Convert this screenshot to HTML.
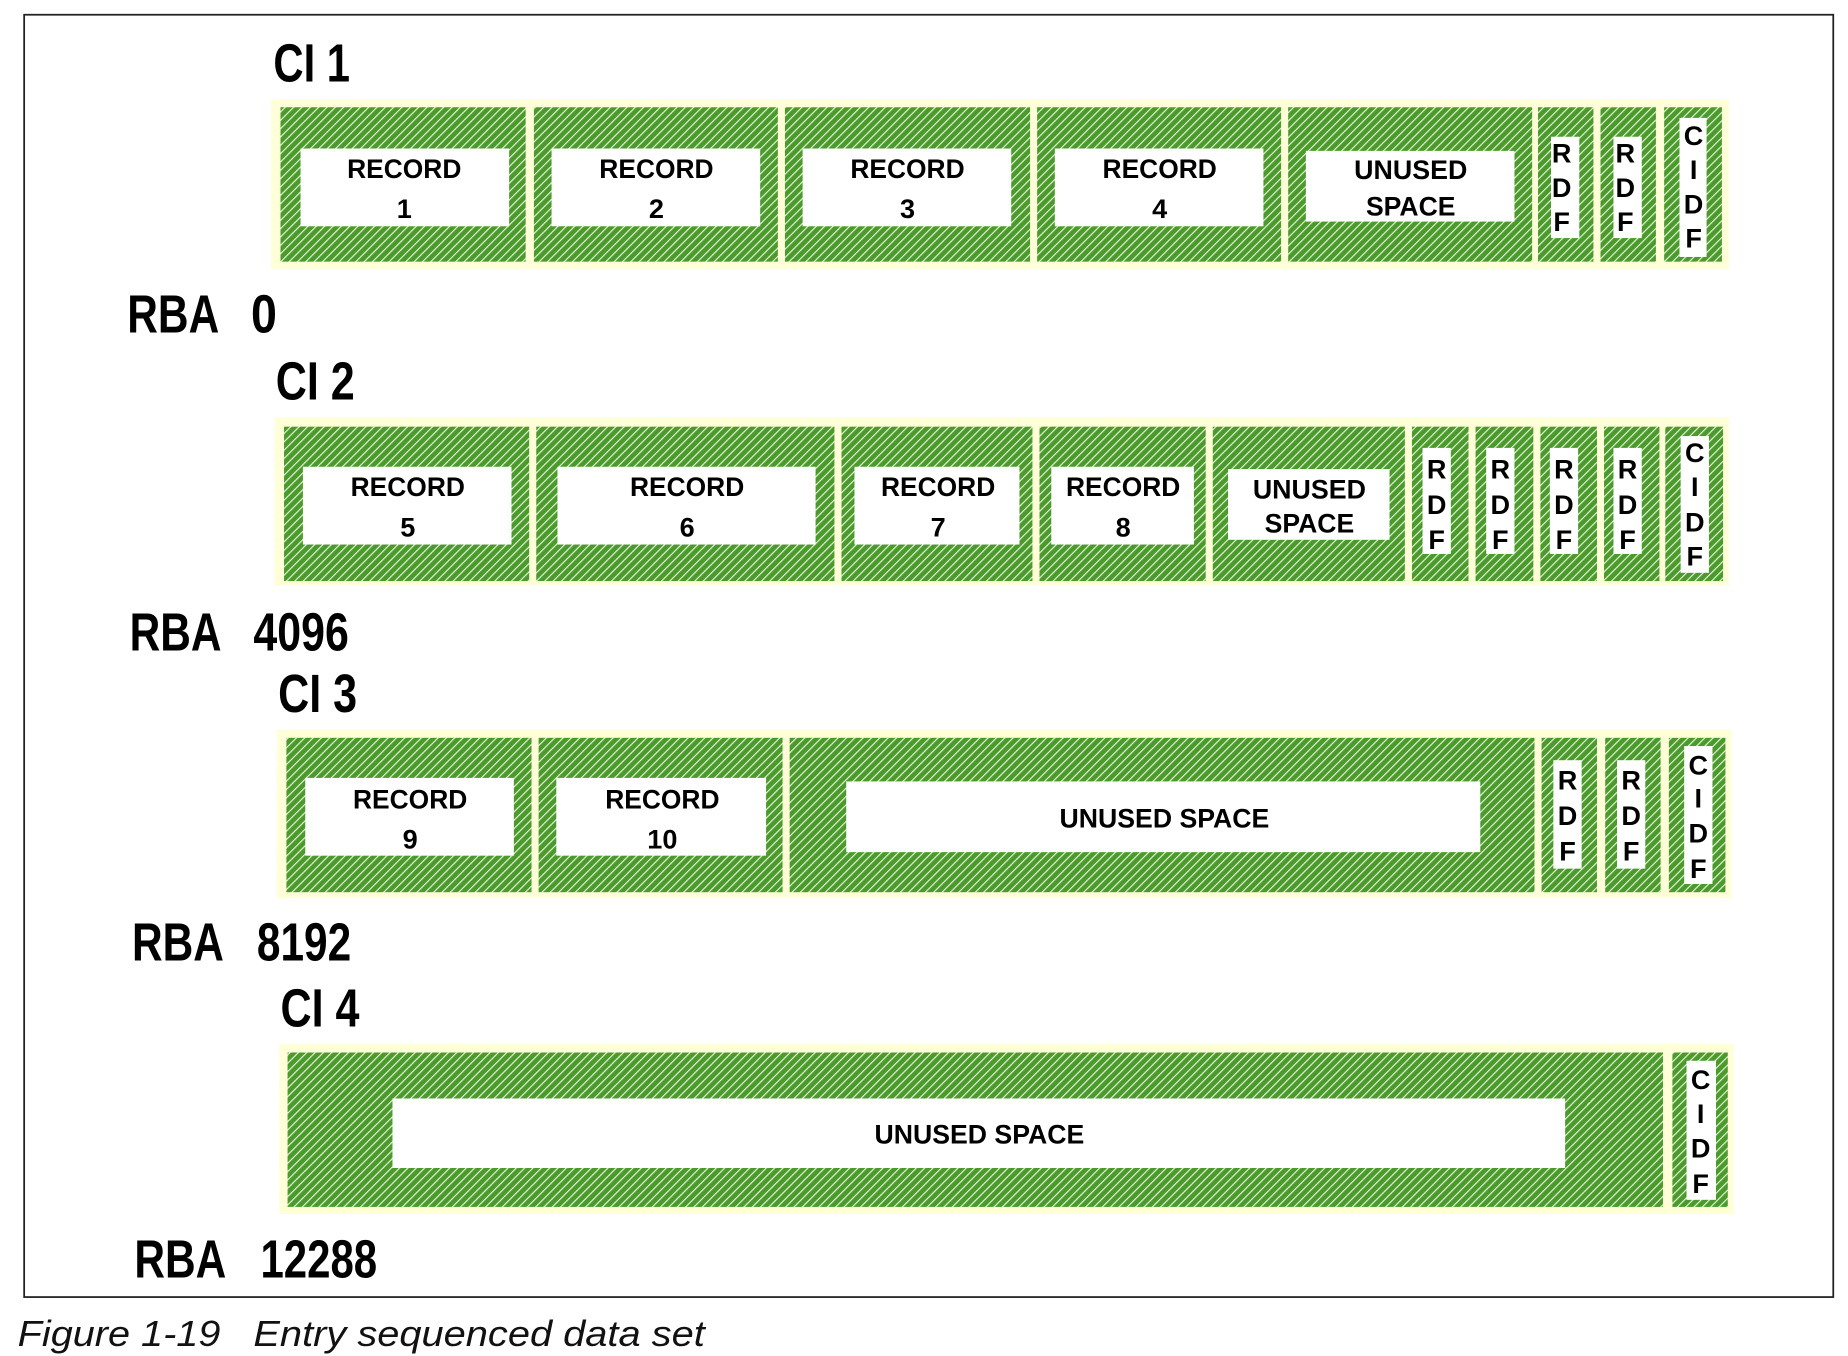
<!DOCTYPE html>
<html><head><meta charset="utf-8"><style>
html,body{margin:0;padding:0;background:#fff;}
svg{display:block;}
.b{font-family:"Liberation Sans",sans-serif;font-weight:bold;fill:#000;}
.c{font-size:23px;text-anchor:middle;}
.L{font-size:46px;}
</style></head><body>
<svg width="1848" height="1356" viewBox="0 0 1568 1150.5" preserveAspectRatio="none" xmlns="http://www.w3.org/2000/svg">
<defs>
<pattern id="h" patternUnits="userSpaceOnUse" width="5" height="5" patternTransform="rotate(45)">
<rect width="5" height="5" fill="#4a9a2c"/>
<rect x="0" y="0" width="1" height="5" fill="#e6f2d8"/>
</pattern>
</defs>
<rect x="20.5" y="12.5" width="1535" height="1088" fill="none" stroke="#222" stroke-width="1.5"/>

<!-- Row 1 -->
<text class="b L" x="232" y="69" textLength="65" lengthAdjust="spacingAndGlyphs">CI 1</text>
<rect x="230" y="84" width="1237" height="144" fill="#ffffd8"/>
<g fill="url(#h)">
<rect x="238" y="91" width="208" height="131"/><rect x="453" y="91" width="207" height="131"/>
<rect x="666" y="91" width="208" height="131"/><rect x="880" y="91" width="207" height="131"/>
<rect x="1093" y="91" width="207" height="131"/><rect x="1305" y="91" width="47" height="131"/>
<rect x="1358" y="91" width="47" height="131"/><rect x="1412" y="91" width="49" height="131"/>
</g>
<g fill="#fff">
<rect x="255" y="126" width="177" height="66"/><rect x="468" y="126" width="177" height="66"/>
<rect x="681" y="126" width="177" height="66"/><rect x="895" y="126" width="177" height="66"/>
<rect x="1108" y="128" width="177" height="60"/>
<rect x="1316" y="116" width="24" height="86"/><rect x="1369" y="116" width="24" height="86"/>
<rect x="1425" y="100" width="23" height="118"/>
</g>
<g class="b c">
<text x="343" y="151" textLength="97" lengthAdjust="spacingAndGlyphs">RECORD</text><text x="343" y="185">1</text>
<text x="557" y="151" textLength="97" lengthAdjust="spacingAndGlyphs">RECORD</text><text x="557" y="185">2</text>
<text x="770" y="151" textLength="97" lengthAdjust="spacingAndGlyphs">RECORD</text><text x="770" y="185">3</text>
<text x="984" y="151" textLength="97" lengthAdjust="spacingAndGlyphs">RECORD</text><text x="984" y="185">4</text>
<text x="1197" y="152" textLength="96" lengthAdjust="spacingAndGlyphs">UNUSED</text><text x="1197" y="183" textLength="76" lengthAdjust="spacingAndGlyphs">SPACE</text>
<text x="1325" y="138">R</text><text x="1325" y="167">D</text><text x="1325" y="196">F</text>
<text x="1379" y="138">R</text><text x="1379" y="167">D</text><text x="1379" y="196">F</text>
<text x="1437" y="123">C</text><text x="1437" y="152">I</text><text x="1437" y="181">D</text><text x="1437" y="210">F</text>
</g>
<text class="b L" x="108" y="282" textLength="78" lengthAdjust="spacingAndGlyphs">RBA</text>
<text class="b L" x="213" y="282" textLength="22" lengthAdjust="spacingAndGlyphs">0</text>

<!-- Row 2 -->
<text class="b L" x="234" y="339" textLength="67" lengthAdjust="spacingAndGlyphs">CI 2</text>
<rect x="233" y="354" width="1234" height="143" fill="#ffffd8"/>
<g fill="url(#h)">
<rect x="241" y="362" width="208" height="131"/><rect x="455" y="362" width="253" height="131"/>
<rect x="714" y="362" width="162" height="131"/><rect x="882" y="362" width="141" height="131"/>
<rect x="1029" y="362" width="163" height="131"/><rect x="1198" y="362" width="48" height="131"/>
<rect x="1252" y="362" width="49" height="131"/><rect x="1307" y="362" width="48" height="131"/>
<rect x="1361" y="362" width="47" height="131"/><rect x="1413" y="362" width="49" height="131"/>
</g>
<g fill="#fff">
<rect x="257" y="396" width="177" height="66"/><rect x="473" y="396" width="219" height="66"/>
<rect x="725" y="396" width="140" height="66"/><rect x="892" y="396" width="121" height="66"/>
<rect x="1042" y="398" width="137" height="60"/>
<rect x="1207" y="380" width="24" height="90"/><rect x="1261" y="380" width="24" height="90"/>
<rect x="1315" y="380" width="24" height="90"/><rect x="1369" y="380" width="24" height="90"/>
<rect x="1426" y="370" width="24" height="116"/>
</g>
<g class="b c">
<text x="346" y="421" textLength="97" lengthAdjust="spacingAndGlyphs">RECORD</text><text x="346" y="455">5</text>
<text x="583" y="421" textLength="97" lengthAdjust="spacingAndGlyphs">RECORD</text><text x="583" y="455">6</text>
<text x="796" y="421" textLength="97" lengthAdjust="spacingAndGlyphs">RECORD</text><text x="796" y="455">7</text>
<text x="953" y="421" textLength="97" lengthAdjust="spacingAndGlyphs">RECORD</text><text x="953" y="455">8</text>
<text x="1111" y="423" textLength="96" lengthAdjust="spacingAndGlyphs">UNUSED</text><text x="1111" y="452" textLength="76" lengthAdjust="spacingAndGlyphs">SPACE</text>
<text x="1219" y="406">R</text><text x="1219" y="436">D</text><text x="1219" y="466">F</text>
<text x="1273" y="406">R</text><text x="1273" y="436">D</text><text x="1273" y="466">F</text>
<text x="1327" y="406">R</text><text x="1327" y="436">D</text><text x="1327" y="466">F</text>
<text x="1381" y="406">R</text><text x="1381" y="436">D</text><text x="1381" y="466">F</text>
<text x="1438" y="392">C</text><text x="1438" y="421">I</text><text x="1438" y="451">D</text><text x="1438" y="480">F</text>
</g>
<text class="b L" x="110" y="552" textLength="78" lengthAdjust="spacingAndGlyphs">RBA</text>
<text class="b L" x="215" y="552" textLength="81" lengthAdjust="spacingAndGlyphs">4096</text>

<!-- Row 3 -->
<text class="b L" x="236" y="604" textLength="67" lengthAdjust="spacingAndGlyphs">CI 3</text>
<rect x="235" y="619" width="1234" height="143" fill="#ffffd8"/>
<g fill="url(#h)">
<rect x="243" y="626" width="208" height="131"/><rect x="457" y="626" width="207" height="131"/>
<rect x="670" y="626" width="632" height="131"/><rect x="1308" y="626" width="47" height="131"/>
<rect x="1362" y="626" width="47" height="131"/><rect x="1416" y="626" width="48" height="131"/>
</g>
<g fill="#fff">
<rect x="259" y="660" width="177" height="66"/><rect x="472" y="660" width="178" height="66"/>
<rect x="718" y="663" width="538" height="60"/>
<rect x="1318" y="645" width="24" height="92"/><rect x="1372" y="645" width="24" height="92"/>
<rect x="1429" y="633" width="24" height="117"/>
</g>
<g class="b c">
<text x="348" y="686" textLength="97" lengthAdjust="spacingAndGlyphs">RECORD</text><text x="348" y="720">9</text>
<text x="562" y="686" textLength="97" lengthAdjust="spacingAndGlyphs">RECORD</text><text x="562" y="720">10</text>
<text x="988" y="702" textLength="178" lengthAdjust="spacingAndGlyphs">UNUSED SPACE</text>
<text x="1330" y="670">R</text><text x="1330" y="700">D</text><text x="1330" y="730">F</text>
<text x="1384" y="670">R</text><text x="1384" y="700">D</text><text x="1384" y="730">F</text>
<text x="1441" y="657">C</text><text x="1441" y="685">I</text><text x="1441" y="715">D</text><text x="1441" y="745">F</text>
</g>
<text class="b L" x="112" y="815" textLength="78" lengthAdjust="spacingAndGlyphs">RBA</text>
<text class="b L" x="218" y="815" textLength="80" lengthAdjust="spacingAndGlyphs">8192</text>

<!-- Row 4 -->
<text class="b L" x="238" y="871" textLength="67" lengthAdjust="spacingAndGlyphs">CI 4</text>
<rect x="237" y="886" width="1234" height="144" fill="#ffffd8"/>
<g fill="url(#h)">
<rect x="244" y="893" width="1167" height="131"/><rect x="1419" y="893" width="47" height="131"/>
</g>
<g fill="#fff">
<rect x="333" y="932" width="995" height="59"/>
<rect x="1431" y="900" width="25" height="118"/>
</g>
<g class="b c">
<text x="831" y="970" textLength="178" lengthAdjust="spacingAndGlyphs">UNUSED SPACE</text>
<text x="1443" y="924">C</text><text x="1443" y="953">I</text><text x="1443" y="982">D</text><text x="1443" y="1012">F</text>
</g>
<text class="b L" x="114" y="1084" textLength="78" lengthAdjust="spacingAndGlyphs">RBA</text>
<text class="b L" x="221" y="1084" textLength="99" lengthAdjust="spacingAndGlyphs">12288</text>

<text x="15" y="1142" font-family="Liberation Sans, sans-serif" font-style="italic" font-size="31" fill="#111" textLength="172" lengthAdjust="spacingAndGlyphs">Figure 1-19</text>
<text x="215" y="1142" font-family="Liberation Sans, sans-serif" font-style="italic" font-size="31" fill="#111" textLength="383" lengthAdjust="spacingAndGlyphs">Entry sequenced data set</text>
</svg>
</body></html>
